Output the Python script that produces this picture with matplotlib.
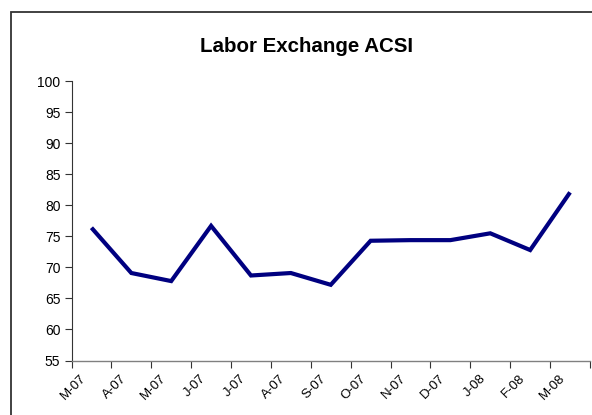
import matplotlib
matplotlib.use("Agg")
import matplotlib.pyplot as plt
from matplotlib.patches import Rectangle
from matplotlib.transforms import ScaledTranslation, blended_transform_factory

categories = ["M-07", "A-07", "M-07", "J-07", "J-07", "A-07", "S-07",
              "O-07", "N-07", "D-07", "J-08", "F-08", "M-08"]
acsi = [76.4, 69.1, 67.8, 76.7, 68.7, 69.1, 67.2, 74.3, 74.4, 74.4, 75.5, 72.8, 82.1]
y_ticks = [55, 60, 65, 70, 75, 80, 85, 90, 95, 100]
title = "Labor Exchange ACSI"

plt.rcParams['font.family'] = ['Liberation Sans', 'DejaVu Sans']

W, H = 592, 415
fig = plt.figure(figsize=(W / 100, H / 100), dpi=100)
fig.patch.set_facecolor('white')

# outer chart frame (extends past the right and bottom edges)
fig.patches.append(Rectangle((11 / W, -0.05), 1.2, 1 - 12 / H + 0.05,
                             transform=fig.transFigure, fill=False,
                             edgecolor='#333333', linewidth=1.3))

ax = fig.add_axes([71.5 / W, 1 - 360.5 / H, (590 - 71.5) / W, (360.5 - 81.3) / H])
x = list(range(len(categories)))
ax.plot(x, acsi, color='#000080', linewidth=3.0, solid_joinstyle='miter',
        solid_capstyle='butt')

ax.set_xlim(-0.5, len(categories) - 0.5)
ax.set_ylim(55, 100)
ax.set_yticks(y_ticks)
ax.set_yticklabels([str(v) for v in y_ticks], fontsize=10)
ax.set_xticks([i - 0.5 for i in range(len(categories) + 1)])
ax.set_xticklabels([])
ax.tick_params(axis='both', direction='out', length=5, width=0.8, color='#333333')
ax.tick_params(axis='y', pad=3)

for s in ['top', 'right']:
    ax.spines[s].set_visible(False)
ax.spines['left'].set_color('#333333')
ax.spines['bottom'].set_color('#808080')
ax.spines['left'].set_linewidth(0.8)
ax.spines['bottom'].set_linewidth(1.0)

trans = blended_transform_factory(ax.transData, ax.transAxes) + \
    ScaledTranslation(-11 / 100, -12 / 100, fig.dpi_scale_trans)
for i, lab in enumerate(categories):
    ax.text(i, 0, lab, transform=trans, rotation=45, ha='right', va='top',
            rotation_mode='anchor', fontsize=9.5)

fig.text(307 / W, 1 - 47 / H, title, ha='center', va='center',
         fontsize=14.8, fontweight='bold')

fig.savefig('out.png', dpi=100)
